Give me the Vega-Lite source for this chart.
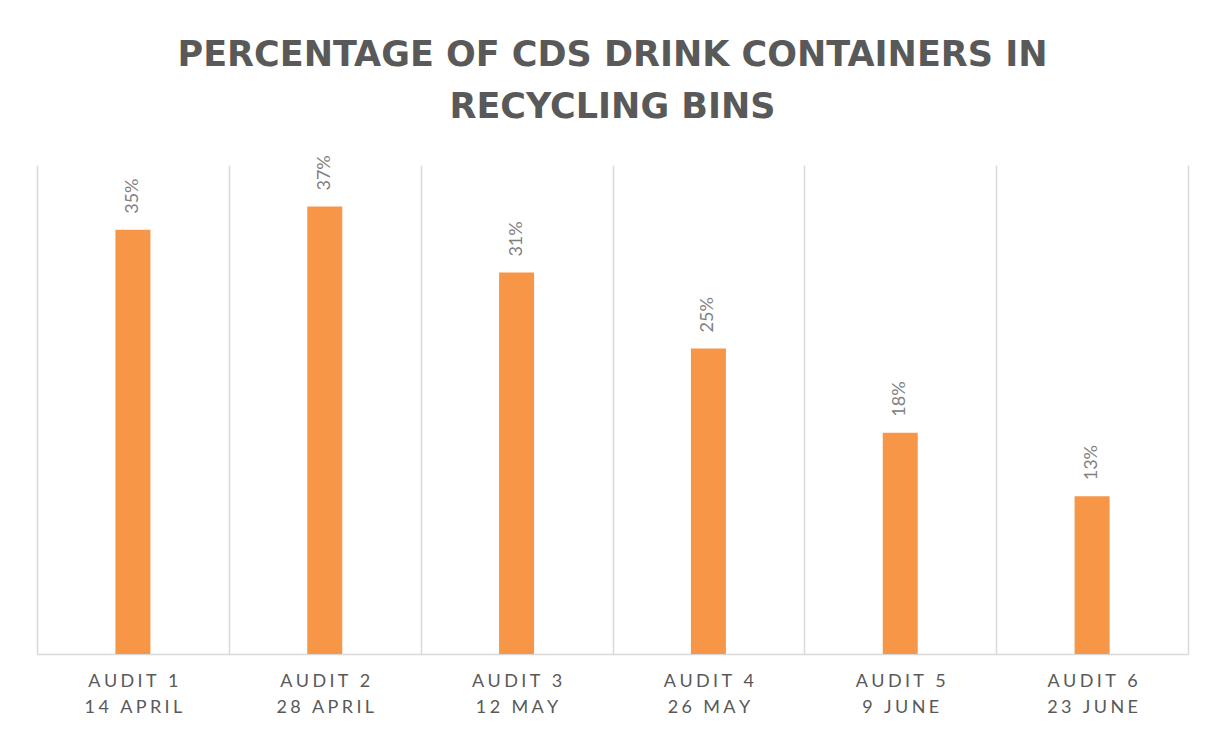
{
  "$schema": "https://vega.github.io/schema/vega-lite/v6.json",
  "width": 1151,
  "height": 489,
  "autosize": {"type": "none"},
  "padding": {"left": 37, "top": 165, "right": 25, "bottom": 78},
  "background": "white",
  "title": {
    "text": ["PERCENTAGE OF CDS DRINK CONTAINERS IN", "RECYCLING BINS"],
    "font": "DejaVu Sans",
    "fontSize": 35,
    "fontWeight": "bold",
    "color": "#595959",
    "lineHeight": 52,
    "baseline": "alphabetic",
    "anchor": "middle",
    "offset": 2
  },
  "config": {"view": {"stroke": null}},
  "data": {
    "values": [
      {"audit": "AUDIT 1", "date": "14 APRIL", "share": 0.347},
      {"audit": "AUDIT 2", "date": "28 APRIL", "share": 0.366},
      {"audit": "AUDIT 3", "date": "12 MAY", "share": 0.312},
      {"audit": "AUDIT 4", "date": "26 MAY", "share": 0.25},
      {"audit": "AUDIT 5", "date": "9 JUNE", "share": 0.181},
      {"audit": "AUDIT 6", "date": "23 JUNE", "share": 0.129}
    ]
  },
  "transform": [{"calculate": "datum.audit + '|' + datum.date", "as": "cat"}],
  "encoding": {
    "x": {
      "field": "cat",
      "type": "nominal",
      "sort": null,
      "scale": {"paddingInner": 0, "paddingOuter": 0},
      "axis": {
        "title": null,
        "labelAngle": 0,
        "labelExpr": "isString(datum.value) ? [join(split(split(datum.value, '|')[0], ''), '\u2009\u200A'), join(split(split(datum.value, '|')[1], ''), '\u2009\u200A')] : ''",
        "labelFont": "Lato",
        "labelFontSize": 18,
        "labelColor": "#595959",
        "labelLineHeight": 26,
        "labelPadding": 18,
        "labelBaseline": "top",
        "ticks": false,
        "tickBand": "extent",
        "grid": true,
        "gridColor": "#D9D9D9",
        "gridWidth": 1.5,
        "domainColor": "#D9D9D9",
        "domainWidth": 1.5
      }
    },
    "y": {
      "field": "share",
      "type": "quantitative",
      "scale": {"domain": [0, 0.4]},
      "axis": null
    }
  },
  "layer": [
    {"mark": {"type": "bar", "color": "#F79646", "size": 35}},
    {
      "mark": {
        "type": "text",
        "angle": 270,
        "align": "left",
        "baseline": "middle",
        "dx": 16,
        "font": "Lato",
        "fontSize": 18,
        "color": "#808080"
      },
      "encoding": {"text": {"field": "share", "type": "quantitative", "format": ".0%"}}
    }
  ]
}
